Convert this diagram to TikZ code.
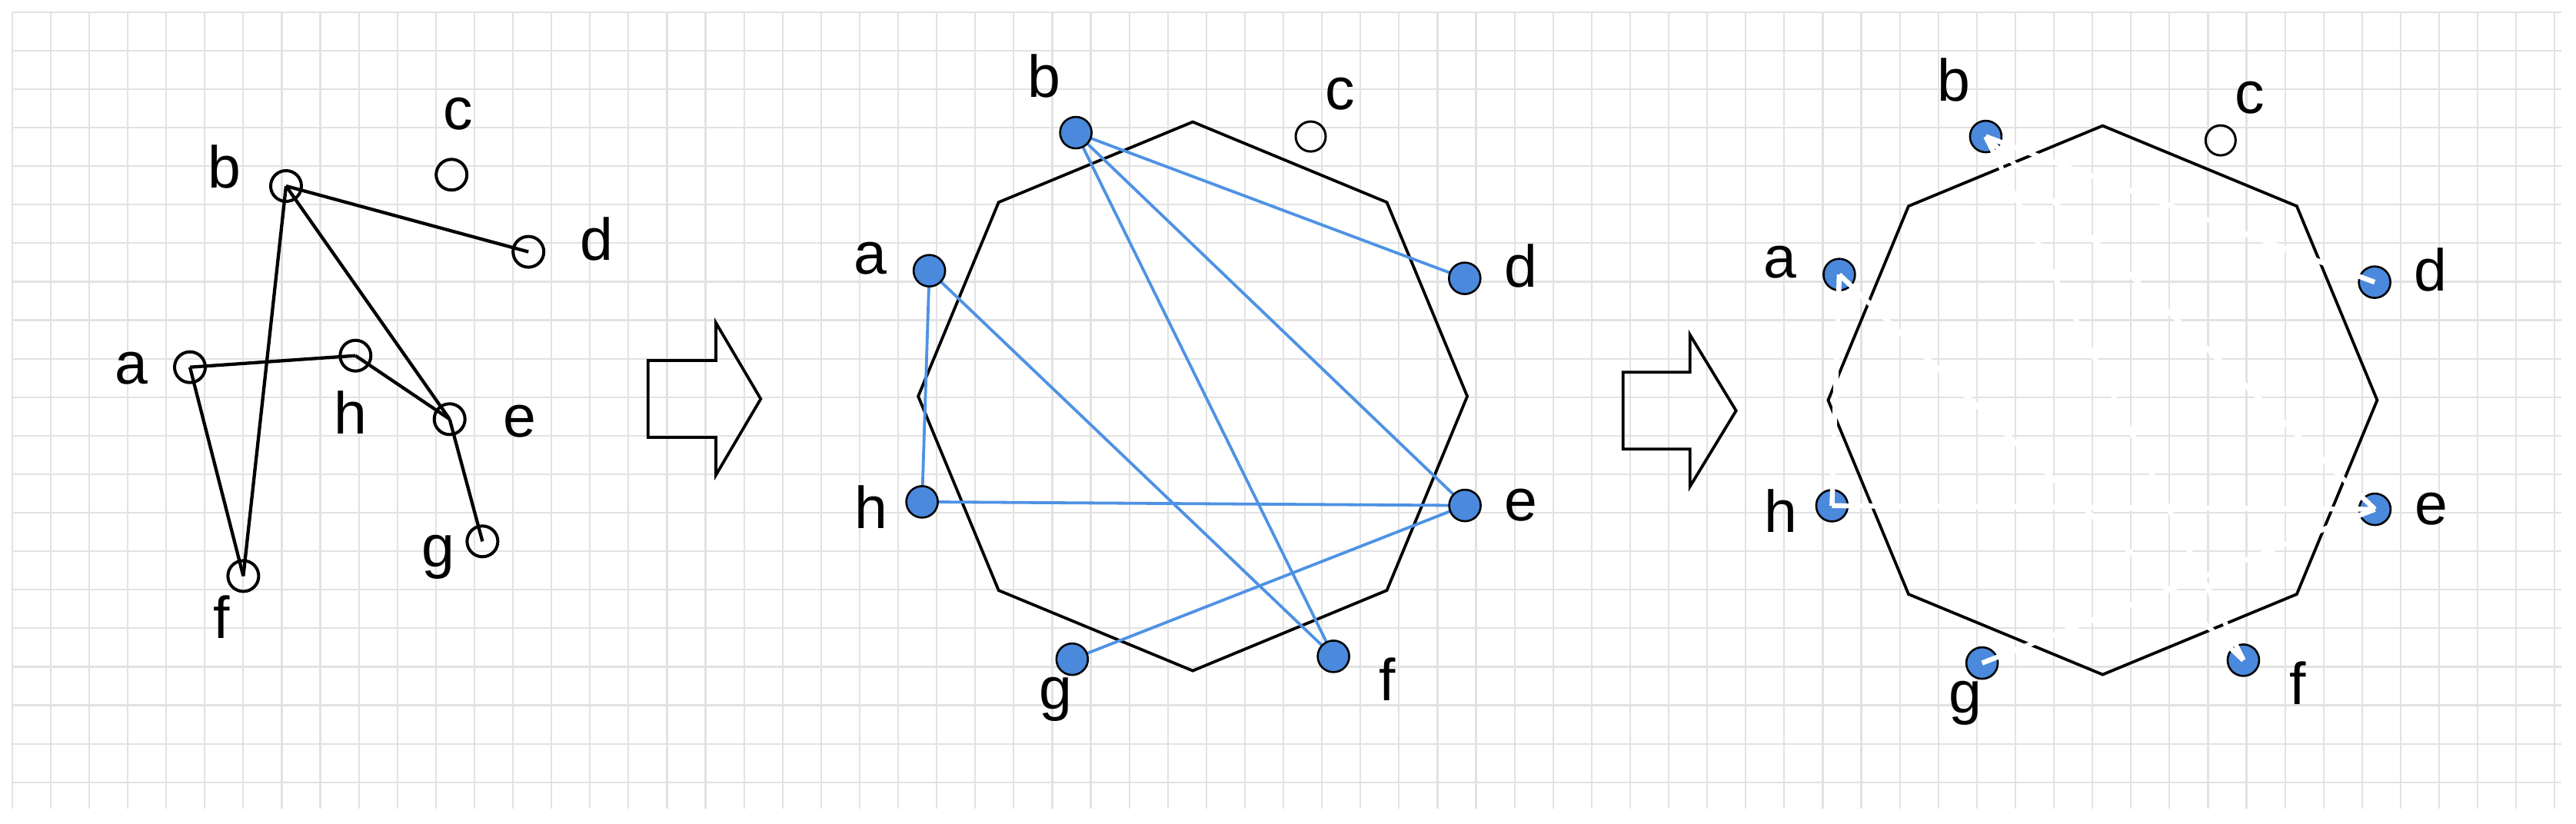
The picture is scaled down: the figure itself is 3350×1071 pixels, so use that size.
\documentclass[tikz,border=0pt]{standalone}
\usepackage{fontspec}
\setmainfont{Liberation Sans}
\definecolor{gridc}{RGB}{226,226,226}
\definecolor{nodeblue}{RGB}{74,137,220}
\definecolor{lineblue}{RGB}{78,146,228}
\pgfdeclarelayer{gridlayer}
\pgfdeclarelayer{edgelayer}
\pgfsetlayers{gridlayer,edgelayer,main}
\begin{document}
\begin{tikzpicture}[x=1pt,y=-1pt,
  lbl/.style={anchor=base, inner sep=0pt, font=\fontsize{77}{90}\selectfont},
  gridline/.style={draw=gridc, line width=2.2pt},
  opennode/.style={circle, draw=black, line width=4pt, minimum size=40pt, inner sep=0pt},
  smallopen/.style={circle, draw=black, line width=3pt, minimum size=39pt, inner sep=0pt},
  bluenode/.style={circle, draw=black, line width=2.6pt, fill=nodeblue, minimum size=41pt, inner sep=0pt},
  blackedge/.style={draw=black, line width=4.3pt},
  blueedge/.style={draw=lineblue, line width=3.8pt},
  whiteedge/.style={draw=white, line width=6.5pt},
  octo/.style={draw=black, line width=3.8pt, line join=miter},
  blockarrow/.style={draw=black, line width=3.8pt, line join=miter}]
\useasboundingbox (0,0) rectangle (3350,1071);
\begin{pgfonlayer}{gridlayer}
  \fill[white] (0,0) rectangle (3350,1071);
  \foreach \i in {0,...,66} \draw[gridline] ({15.7+50.1*\i},15.7) -- ({15.7+50.1*\i},1052);
  \foreach \j in {0,...,20} \draw[gridline] (15.7,{15.7+50.1*\j}) -- (3331,{15.7+50.1*\j});
\end{pgfonlayer}

% ---------- panel 1 ----------
\node[opennode] (a1) at (247,477.7) {};
\node[opennode] (b1) at (372,242) {};
\node[opennode] (c1) at (587.2,227.3) {};
\node[opennode] (d1) at (687.2,327.6) {};
\node[opennode] (e1) at (584.7,545.3) {};
\node[opennode] (f1) at (316.4,749.4) {};
\node[opennode] (g1) at (627.4,704.3) {};
\node[opennode] (h1) at (462.3,462.7) {};
\draw[blackedge] (b1.center) -- (d1.center);
\draw[blackedge] (b1.center) -- (f1.center);
\draw[blackedge] (b1.center) -- (e1.center);
\draw[blackedge] (a1.center) -- (h1.center);
\draw[blackedge] (h1.center) -- (e1.center);
\draw[blackedge] (a1.center) -- (f1.center);
\draw[blackedge] (e1.center) -- (g1.center);
\node[lbl] (la1) at (170.5,499) {a};
\node[lbl] (lb1) at (292,244) {b};
\node[lbl] (lc1) at (595.5,168) {c};
\node[lbl] (ld1) at (775.8,338.5) {d};
\node[lbl] (le1) at (676.4,568.5) {e};
\node[lbl] (lf1) at (287.8,830) {f};
\node[lbl] (lg1) at (570,737) {g};
\node[lbl] (lh1) at (456,564) {h};

% ---------- arrows ----------
\draw[blockarrow] (842.7,469) -- (931,469) -- (931,420) -- (989.3,519) -- (931,618) -- (931,569) -- (842.7,569) -- cycle;
\draw[blockarrow] (2110.7,484.3) -- (2197.7,484.3) -- (2197.7,435.5) -- (2257.7,534.3) -- (2197.7,633) -- (2197.7,584.3) -- (2110.7,584.3) -- cycle;

% ---------- panel 2 ----------
\begin{scope}[shift={(1551.1,515.6)}]
  \node[bluenode] (a2) at (-342.5,-163.4) {};
  \node[bluenode] (b2) at (-152,-343) {};
  \node[smallopen] (c2) at (153.4,-338) {};
  \node[bluenode] (d2) at (353.7,-153.5) {};
  \node[bluenode] (e2) at (354,142) {};
  \node[bluenode] (f2) at (183,338.3) {};
  \node[bluenode] (g2) at (-156.8,342) {};
  \node[bluenode] (h2) at (-352,137.3) {};
  \node[lbl] (la2) at (-419.5,-159.4) {a};
  \node[lbl] (lb2) at (-193.5,-389) {b};
  \node[lbl] (lc2) at (191.5,-373.5) {c};
  \node[lbl] (ld2) at (426.5,-142.6) {d};
  \node[lbl] (le2) at (427,162) {e};
  \node[lbl] (lf2) at (253.4,396.3) {f};
  \node[lbl] (lg2) at (-178.5,406.5) {g};
  \node[lbl] (lh2) at (-418.4,171.5) {h};
  \begin{pgfonlayer}{edgelayer}
    \draw[octo] (0,0) +(90:357) -- +(45:357) -- +(0:357) -- +(-45:357) -- +(-90:357) -- +(-135:357) -- +(180:357) -- +(135:357) -- cycle;
    \draw[blueedge] (b2.center) -- (d2.center);
    \draw[blueedge] (b2.center) -- (e2.center);
    \draw[blueedge] (b2.center) -- (f2.center);
    \draw[blueedge] (a2.center) -- (h2.center);
    \draw[blueedge] (a2.center) -- (f2.center);
    \draw[blueedge] (h2.center) -- (e2.center);
    \draw[blueedge] (e2.center) -- (g2.center);
  \end{pgfonlayer}
\end{scope}

% ---------- panel 3 ----------
\begin{scope}[shift={(2734.4,520.6)}]
  \begin{pgfonlayer}{edgelayer}
    \draw[octo] (0,0) +(90:357) -- +(45:357) -- +(0:357) -- +(-45:357) -- +(-90:357) -- +(-135:357) -- +(180:357) -- +(135:357) -- cycle;
  \end{pgfonlayer}
  \node[bluenode] (a3) at (-342.5,-163.4) {};
  \node[bluenode] (b3) at (-152,-343) {};
  \node[smallopen] (c3) at (153.4,-338) {};
  \node[bluenode] (d3) at (353.7,-153.5) {};
  \node[bluenode] (e3) at (354,142) {};
  \node[bluenode] (f3) at (183,338.3) {};
  \node[bluenode] (g3) at (-156.8,342) {};
  \node[bluenode] (h3) at (-352,137.3) {};
  \node[lbl] (la3) at (-419.5,-159.4) {a};
  \node[lbl] (lb3) at (-193.5,-389) {b};
  \node[lbl] (lc3) at (191.5,-373.5) {c};
  \node[lbl] (ld3) at (426.5,-142.6) {d};
  \node[lbl] (le3) at (427,162) {e};
  \node[lbl] (lf3) at (253.4,396.3) {f};
  \node[lbl] (lg3) at (-178.5,406.5) {g};
  \node[lbl] (lh3) at (-418.4,171.5) {h};
  \draw[whiteedge] (b3.center) -- (d3.center);
  \draw[whiteedge] (b3.center) -- (e3.center);
  \draw[whiteedge] (b3.center) -- (f3.center);
  \draw[whiteedge] (a3.center) -- (h3.center);
  \draw[whiteedge] (a3.center) -- (f3.center);
  \draw[whiteedge] (h3.center) -- (e3.center);
  \draw[whiteedge] (e3.center) -- (g3.center);
\end{scope}
\end{tikzpicture}
\end{document}
